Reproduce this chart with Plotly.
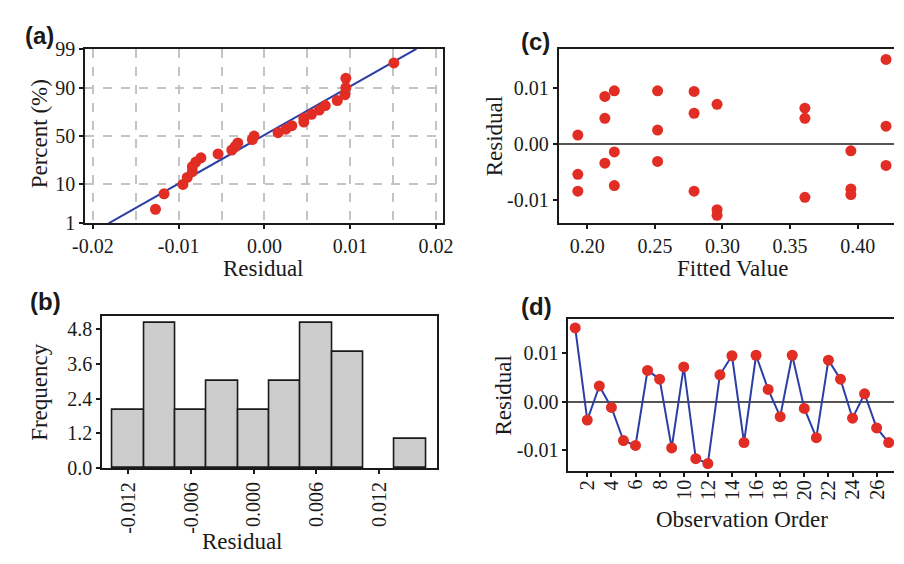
import plotly.graph_objects as go
from statistics import NormalDist, mean, stdev

# ---------------- data ----------------
order = list(range(1, 28))
residual = [0.0151, -0.0038, 0.0032, -0.0012, -0.0080, -0.0090, 0.0064, 0.0046, -0.0095,
            0.0071, -0.0117, -0.0127, 0.0055, 0.0094, -0.0084, 0.0095, 0.0025, -0.0031,
            0.0095, -0.0014, -0.0074, 0.0085, 0.0046, -0.0034, 0.0016, -0.0054, -0.0084]
fitted = [0.421, 0.421, 0.421, 0.395, 0.395, 0.395, 0.361, 0.361, 0.361,
          0.296, 0.296, 0.296, 0.279, 0.279, 0.279, 0.252, 0.252, 0.252,
          0.220, 0.220, 0.220, 0.213, 0.213, 0.213, 0.193, 0.193, 0.193]

pct_ticks = [1, 10, 50, 90, 99]
a_xticks = [-0.02, -0.01, 0.0, 0.01, 0.02]
b_xticks = [-0.012, -0.006, 0.0, 0.006, 0.012]
b_yticks = [0.0, 1.2, 2.4, 3.6, 4.8]
c_xticks = [0.20, 0.25, 0.30, 0.35, 0.40]
res_ticks = [-0.01, 0.0, 0.01]
d_xticks = list(range(2, 27, 2))

# ---------------- styles ----------------
RED = "#e12d23"
BLUE = "#2b3fa6"
INK = "#1a1a1a"
SERIF = "'Liberation Serif', 'Times New Roman', Times, 'DejaVu Serif', serif"
SANS = "'Liberation Sans', Arial, Helvetica, sans-serif"
TICKF = dict(family=SERIF, size=20, color=INK)
TITLEF = dict(family=SERIF, size=23, color=INK)


def lab(v, fmt):
    s = format(v, fmt)
    if s.startswith("-") and float(s) == 0:
        s = s[1:]
    return s


nd = NormalDist()
n = len(residual)
sorted_res = sorted(residual)
z_pts = [nd.inv_cdf((i - 0.3) / (n + 0.4)) for i in range(1, n + 1)]
mu, sd = mean(residual), stdev(residual)
z_lo, z_hi = nd.inv_cdf(0.01), nd.inv_cdf(0.99)

fig = go.Figure()

# (a) normal probability plot
fig.add_trace(go.Scatter(x=[mu + z_lo * sd, mu + z_hi * sd], y=[z_lo, z_hi], mode="lines",
                         line=dict(color=BLUE, width=2), xaxis="x", yaxis="y"))
fig.add_trace(go.Scatter(x=sorted_res, y=z_pts, mode="markers",
                         marker=dict(color=RED, size=11), xaxis="x", yaxis="y"))

# (c) residual vs fitted
fig.add_trace(go.Scatter(x=fitted, y=residual, mode="markers",
                         marker=dict(color=RED, size=11), xaxis="x2", yaxis="y2"))

# (b) histogram
fig.add_trace(go.Histogram(x=residual, xbins=dict(start=-0.0135, end=0.0165, size=0.003),
                           marker=dict(color="#cdcdcd", line=dict(color=INK, width=1.6)),
                           xaxis="x3", yaxis="y3"))

# (d) residual vs order
fig.add_trace(go.Scatter(x=order, y=residual, mode="lines+markers",
                         line=dict(color=BLUE, width=2),
                         marker=dict(color=RED, size=11), xaxis="x4", yaxis="y4"))

common = dict(showline=True, linecolor=INK, linewidth=2, ticks="outside", ticklen=4,
              tickwidth=2, tickcolor=INK, tickfont=TICKF, zeroline=False, showgrid=False)
grid = dict(showgrid=True, gridcolor="#c4c4c4", gridwidth=1.6, griddash="dash")

fig.update_layout(
    width=904, height=564, margin=dict(l=0, r=0, t=0, b=0),
    paper_bgcolor="white", plot_bgcolor="white", showlegend=False, bargap=0,
    font=dict(family=SERIF, color=INK),
    xaxis=dict(common, **grid, domain=[0.0819, 0.4878], range=[-0.0209, 0.0208], anchor="y",
               mirror=True, tickvals=a_xticks, ticktext=[lab(v, ".2f") for v in a_xticks],
               minor=dict(dtick=0.005, tick0=0, showgrid=True, gridcolor="#c4c4c4",
                          gridwidth=1.6, griddash="dash", ticklen=0)),
    yaxis=dict(common, **grid, domain=[0.6082, 0.9303], range=[z_lo, z_hi], anchor="x",
               mirror=True, tickvals=[nd.inv_cdf(p / 100) for p in pct_ticks],
               ticktext=[str(p) for p in pct_ticks]),
    xaxis2=dict(common, domain=[0.6195, 1.0], range=[0.1789, 0.4269], anchor="y2",
                mirror=True, tickvals=c_xticks, ticktext=[lab(v, ".2f") for v in c_xticks]),
    yaxis2=dict(common, domain=[0.6082, 0.9303], range=[-0.01414, 0.0170], anchor="x2",
                tickvals=res_ticks, ticktext=[lab(v, ".2f") for v in res_ticks],
                zeroline=True, zerolinecolor="#555555", zerolinewidth=2),
    xaxis3=dict(common, domain=[0.1014, 0.4815], range=[-0.0145, 0.01756], anchor="y3",
                mirror=True, tickvals=b_xticks, ticktext=[lab(v, ".3f") for v in b_xticks],
                tickangle=-90),
    yaxis3=dict(common, domain=[0.1566, 0.4374], range=[0, 5.25], anchor="x3",
                mirror=True, tickvals=b_yticks, ticktext=[lab(v, ".1f") for v in b_yticks]),
    xaxis4=dict(common, domain=[0.6305, 1.0], range=[0.44, 27.44], anchor="y4",
                mirror=True, tickvals=d_xticks, showticklabels=False),
    yaxis4=dict(common, domain=[0.1507, 0.4314], range=[-0.0143, 0.0169], anchor="x4",
                tickvals=res_ticks, ticktext=[lab(v, ".2f") for v in res_ticks],
                zeroline=True, zerolinecolor="#555555", zerolinewidth=2),
)

# rotated tick labels for (d), placed at the tick positions
for v in d_xticks:
    fig.add_annotation(text=str(v), x=v, xref="x4", y=1 - 486 / 564, yref="paper",
                       showarrow=False, font=TICKF, textangle=-90,
                       xanchor="center", yanchor="top")


def ann(text, x, y, font, angle=0):
    fig.add_annotation(text=text, x=x / 904, y=1 - y / 564, xref="paper", yref="paper",
                       showarrow=False, font=font, textangle=angle,
                       xanchor="center", yanchor="middle")


# axis titles
ann("Residual", 257, 268, TITLEF)
ann("Percent (%)", 27, 128, TITLEF, -90)
ann("Fitted Value", 738, 268, TITLEF)
ann("Residual", 495, 130, TITLEF, -90)
ann("Residual", 235, 552, TITLEF)
ann("Frequency", 27, 396, TITLEF, -90)
ann("Observation Order", 748, 529, TITLEF)
ann("Residual", 503, 400, TITLEF, -90)

# panel labels
PF = dict(family=SANS, size=24, color=INK)
ann("<b>(a)</b>", 27, 25, PF)
ann("<b>(c)</b>", 536, 32, PF)
ann("<b>(b)</b>", 33, 302, PF)
ann("<b>(d)</b>", 537, 308, PF)

fig.write_html("out.html")
